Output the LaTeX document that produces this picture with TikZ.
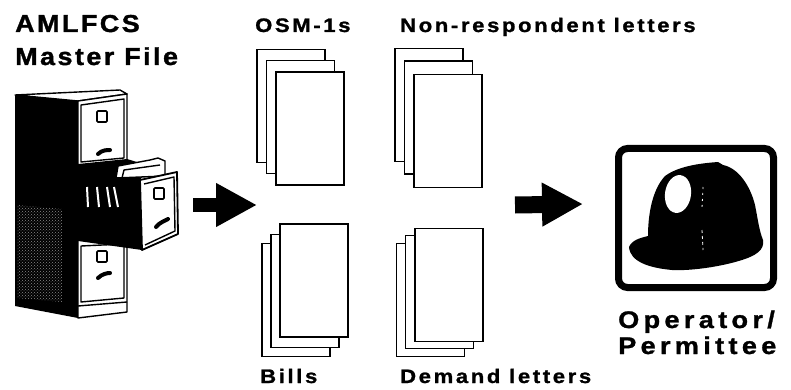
\documentclass[tikz,border=0pt]{standalone}
\usepackage{fontspec}
\newfontfamily\lblfont{Liberation Sans Bold}[FakeStretch=1.13,LetterSpace=13.6,FakeBold=1.2]
\newfontfamily\titlefont{Liberation Sans Bold}[FakeStretch=1.1,LetterSpace=10,FakeBold=1.4]
\newfontfamily\hatfont{Liberation Sans Bold}[FakeStretch=1.13,LetterSpace=18,FakeBold=1.2]
\usetikzlibrary{arrows.meta,patterns}
\begin{document}
\begin{tikzpicture}[x=1pt,y=-1pt,
  caption/.style={anchor=base west, inner sep=0pt, font=\lblfont\fontsize{19.5}{22}\selectfont},
  bigcaption/.style={anchor=base west, inner sep=0pt, font=\titlefont\fontsize{24.5}{28}\selectfont},
  hatcaption/.style={anchor=base west, inner sep=0pt, font=\hatfont\fontsize{24}{28}\selectfont},
  sheet/.style={draw=black, fill=white, line width=1.6pt, minimum width=68pt, minimum height=113pt, inner sep=0pt},
  blockarrow/.style={line width=#1, -{Triangle[length=41pt,width=41pt]}},
  edge/.style={line width=1.4pt, line join=round},
  pull/.style={line width=4pt, line cap=round},
  tag/.style={line width=1.6pt, rounded corners=1pt}]
\useasboundingbox (0,0) rectangle (791,390);

% ---- title ----
\node[bigcaption] (t1) at (15,32) {AMLFCS};
\node[bigcaption] (t2) at (15,65) {Master File};

% ---- filing cabinet ----
% dark side panel
\fill[black] (15,95) -- (78,101) -- (78,318) -- (15,306) -- cycle;
\fill[pattern=crosshatch dots, pattern color=white!55!black] (17,205) -- (62,209) -- (62,302) -- (17,298) -- cycle;
% top
\filldraw[fill=white, edge] (15,95) -- (120,90) -- (127,94) -- (78,101) -- cycle;
% front
\filldraw[fill=white, edge] (78,101) -- (127,94) -- (127,312) -- (78,318) -- cycle;
% top drawer
\draw[edge] (81,105) -- (124,99) -- (124,158) -- (81,162) -- cycle;
\draw[tag] (97,111) rectangle (107,122);
\draw[pull] (98,154) .. controls (102,150) and (107,150) .. (110,150);
% opening of the middle drawer
\fill[black] (78,164) -- (127,159) -- (150,166) -- (140,180) -- (142,250) -- (78,241) -- cycle;
\foreach \xa/\xb in {87/88, 97/99, 107/110, 114/118} {
  \draw[white, line width=2pt] (\xa,187) -- (\xb,207);
}
% folders standing up
\filldraw[fill=white, edge] (116,178) -- (118,166) -- (150,160) -- (158,158) -- (165,161) -- (165,176) -- cycle;
\draw[edge] (122,178) -- (124,170) -- (160,165);
% pulled-out drawer front
\filldraw[fill=white, line width=1.8pt, line join=round] (140,180) -- (177,172) -- (178,234) -- (142,250) -- cycle;
\draw[edge] (144,184) -- (174,177) -- (175,231) -- (145,245);
\draw[tag] (154,188) rectangle (164,199);
\draw[pull] (156,227) .. controls (160,222) and (165,221) .. (168,219);
% bottom drawer
\draw[edge] (81,246) -- (124,244) -- (124,298) -- (81,302) -- cycle;
\draw[tag] (97,251) rectangle (107,262);
\draw[pull] (98,278) .. controls (102,274) and (107,273) .. (110,273);
\draw[edge] (78,306) -- (127,302);

% ---- document stacks ----
\node[sheet] (o3) at (291,106) {};
\node[sheet] (o2) at (300.5,117) {};
\node[sheet] (o1) at (310,128.5) {};
\node[caption] (osm) at (255,32) {OSM-1s};

\node[sheet] (n3) at (429,105) {};
\node[sheet] (n2) at (438.5,117.5) {};
\node[sheet] (n1) at (448,131) {};
\node[caption] (nrl) at (400,32) {Non-respondent letters};

\node[sheet] (b3) at (296,300) {};
\node[sheet] (b2) at (305,291) {};
\node[sheet] (b1) at (314,280.5) {};
\node[caption] (bills) at (260,383) {Bills};

\node[sheet] (d3) at (430.5,300) {};
\node[sheet] (d2) at (439.5,292) {};
\node[sheet] (d1) at (449,285) {};
\node[caption] (dem) at (400,383) {Demand letters};

% ---- block arrows ----
\coordinate (a1s) at (193,205);
\coordinate (a1e) at (257,205);
\draw[blockarrow=14pt] (a1s) -- (a1e);
\coordinate (a2s) at (515,205);
\coordinate (a2e) at (583,204);
\draw[blockarrow=17pt] (a2s) -- (a2e);

% ---- operator / permittee ----
\node[draw, line width=7pt, rounded corners=9pt, minimum width=155pt, minimum height=139pt, inner sep=0pt] (hatbox) at (696,218) {};
\fill[black] (629,247)
  .. controls (632,240) and (640,238) .. (648,236)
  .. controls (648,215) and (652,190) .. (665,176)
  .. controls (680,165) and (705,163) .. (718,162)
  -- (723,165)
  .. controls (738,168) and (750,185) .. (755,205)
  .. controls (758,220) and (759,230) .. (763,240)
  .. controls (765,250) and (755,256) .. (742,260)
  .. controls (720,267) and (690,271) .. (672,270)
  .. controls (650,268) and (630,262) .. (629,247) -- cycle;
\fill[white, rotate around={-8:(678,194)}] (678,194) ellipse [x radius=13, y radius=19];
\draw[white, line width=0.8pt, dash pattern=on 2pt off 4pt] (703,187) -- (702,208);
\draw[white, line width=0.8pt, dash pattern=on 3pt off 3pt] (702,230) -- (703,250);
\node[hatcaption] (op1) at (618,328) {Operator/};
\node[hatcaption] (op2) at (618,354) {Permittee};
\end{tikzpicture}
\end{document}
